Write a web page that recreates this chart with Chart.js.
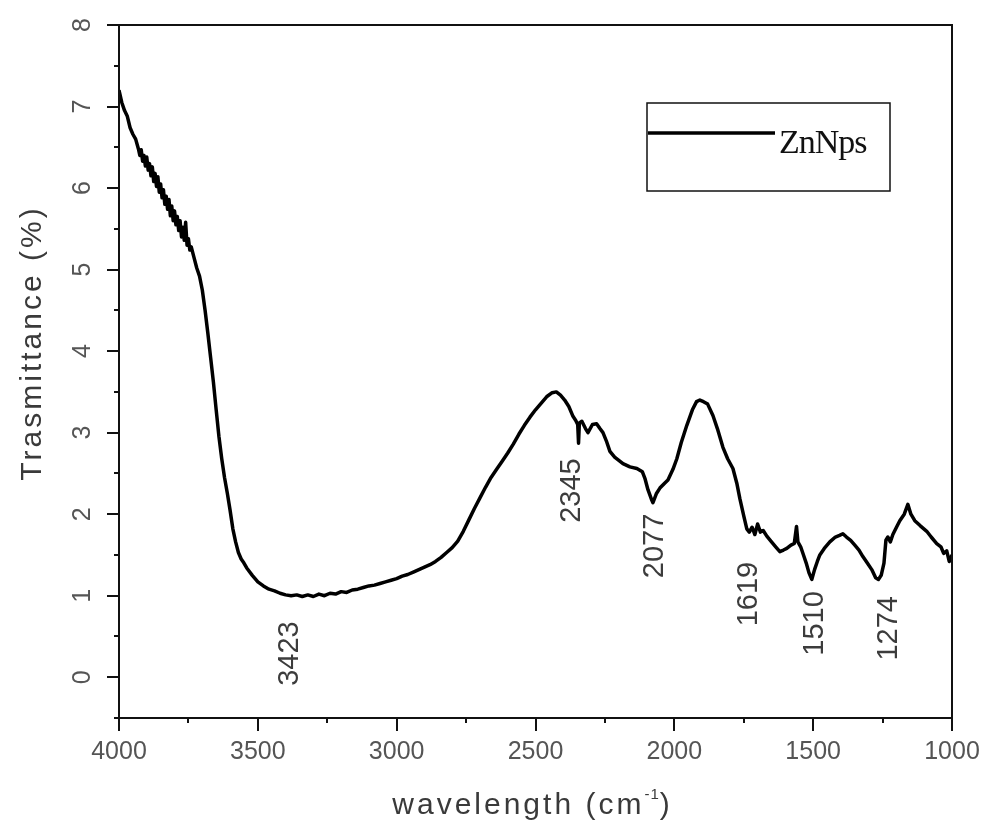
<!DOCTYPE html>
<html>
<head>
<meta charset="utf-8">
<title>ZnNps FTIR spectrum</title>
<script src="https://cdn.jsdelivr.net/npm/chart.js@4.4.1/dist/chart.umd.min.js"></script>
<style>
  html, body { margin: 0; padding: 0; background: #fff; }
  #wrap { width: 989px; height: 827px; }
</style>
</head>
<body>
<div id="wrap"><canvas id="ftirChart"></canvas></div>
<script>
const seriesName = "ZnNps";

const wavenumbers = [
  4000, 3990, 3980, 3970, 3960, 3950, 3940,
  3930, 3925, 3920, 3915, 3910, 3905, 3900, 3895, 3890, 3885, 3880, 3875, 3870, 3865, 3860, 3855,
  3850, 3845, 3840, 3835, 3830, 3825, 3820, 3815, 3810, 3805, 3800, 3795, 3790, 3785, 3780, 3775,
  3770, 3765, 3760, 3755, 3750, 3745, 3740, 3730, 3720, 3710, 3700, 3690,
  3680, 3670, 3660, 3650, 3640, 3630, 3620, 3610, 3600, 3590, 3580, 3570, 3560, 3550, 3540, 3520,
  3500, 3480, 3460, 3440, 3420, 3400, 3380, 3360, 3340, 3320, 3300, 3280, 3260, 3240, 3220, 3200,
  3180, 3160, 3140, 3120, 3100, 3080, 3060, 3040, 3020, 3000, 2980, 2960, 2940, 2920, 2900, 2880,
  2860, 2840, 2820, 2800, 2780, 2760, 2740, 2720, 2700, 2680, 2660, 2640, 2620, 2600, 2580, 2560,
  2540, 2520, 2500, 2480, 2460, 2440, 2425, 2410, 2395, 2380, 2365, 2355, 2348, 2345, 2342, 2333,
  2320, 2311, 2295, 2280, 2268, 2257, 2245, 2232, 2215, 2200, 2185, 2160, 2135, 2115, 2106, 2095,
  2081, 2077, 2065, 2052, 2035, 2023, 2005, 1991, 1975, 1955, 1935, 1920, 1908, 1895, 1880, 1861,
  1845, 1825, 1808, 1789, 1775, 1764, 1750, 1739, 1730, 1720, 1710, 1700, 1690, 1680, 1667, 1650,
  1635, 1620, 1607, 1595, 1580, 1568, 1560, 1555, 1545, 1537, 1525, 1515, 1505, 1495, 1485, 1476,
  1460, 1440, 1420, 1405, 1393, 1380, 1365, 1350, 1335, 1321, 1305, 1289, 1275, 1265, 1255, 1245,
  1238, 1231, 1222, 1213, 1200, 1188, 1172, 1159, 1148, 1134, 1115, 1091, 1075, 1055, 1040, 1030,
  1019, 1010, 1000
];

const transmittance = [
  7.20, 7.05, 6.95, 6.88, 6.74, 6.66, 6.60,
  6.48, 6.40, 6.47, 6.33, 6.40, 6.27, 6.38, 6.22, 6.30, 6.15, 6.26, 6.08, 6.18, 6.02, 6.14, 5.95,
  6.05, 5.88, 5.98, 5.80, 5.90, 5.74, 5.86, 5.66, 5.78, 5.60, 5.72, 5.55, 5.65, 5.48, 5.60, 5.40,
  5.52, 5.36, 5.58, 5.30, 5.38, 5.24, 5.28, 5.15, 5.02, 4.92, 4.75, 4.50,
  4.22, 3.92, 3.62, 3.28, 2.95, 2.68, 2.45, 2.26, 2.05, 1.82, 1.66, 1.53, 1.45, 1.40, 1.34, 1.25,
  1.17, 1.12, 1.08, 1.06, 1.03, 1.01, 1.00, 1.01, 0.99, 1.01, 0.99, 1.02, 1.00, 1.03, 1.02, 1.05,
  1.04, 1.07, 1.08, 1.10, 1.12, 1.13, 1.15, 1.17, 1.19, 1.21, 1.24, 1.26, 1.29, 1.32, 1.35, 1.38,
  1.42, 1.47, 1.53, 1.59, 1.67, 1.79, 1.93, 2.07, 2.20, 2.33, 2.45, 2.55, 2.65, 2.75, 2.86, 2.98,
  3.09, 3.19, 3.28, 3.36, 3.44, 3.49, 3.50, 3.46, 3.40, 3.32, 3.20, 3.15, 3.10, 2.87, 3.12, 3.14,
  3.05, 3.00, 3.10, 3.11, 3.05, 3.00, 2.90, 2.77, 2.70, 2.66, 2.62, 2.58, 2.56, 2.52, 2.44, 2.30,
  2.17, 2.14, 2.25, 2.32, 2.38, 2.42, 2.55, 2.68, 2.88, 3.09, 3.28, 3.38, 3.40, 3.38, 3.35, 3.21,
  3.05, 2.82, 2.68, 2.56, 2.38, 2.19, 1.98, 1.82, 1.78, 1.84, 1.75, 1.88, 1.78, 1.80, 1.73, 1.66,
  1.60, 1.54, 1.56, 1.58, 1.62, 1.64, 1.85, 1.66, 1.60, 1.52, 1.40, 1.28, 1.20, 1.32, 1.42, 1.50,
  1.58, 1.66, 1.72, 1.74, 1.76, 1.72, 1.68, 1.62, 1.56, 1.48, 1.40, 1.32, 1.22, 1.20, 1.25, 1.40,
  1.68, 1.72, 1.66, 1.75, 1.84, 1.92, 2.00, 2.12, 2.00, 1.92, 1.86, 1.79, 1.72, 1.64, 1.60, 1.52,
  1.55, 1.42, 1.50
];

const peakPositions = [3423, 2345, 2077, 1619, 1510, 1274];
const peakLabels = ["3423", "2345", "2077", "1619", "1510", "1274"];

const xTickLabels = [4000, 3500, 3000, 2500, 2000, 1500, 1000];
const yTickLabels = [0, 1, 2, 3, 4, 5, 6, 7, 8];

const xTitle = "wavelength (cm";
const xTitleSup = "-1";
const yTitle = "Trasmittance (%)";

const points = wavenumbers.map((w, i) => ({ x: w, y: transmittance[i] }));

// label placement under each band: pixel nudge along x, height in axis units
const peakLabelSpots = [[11, 0.29], [-7, 2.29], [2, 1.61], [-31, 1.02], [5, 0.66], [13, 0.60]];

// keep the plot box fixed: no extra room reserved for overhanging tick labels
const fixBox = (size) => (scale) => {
  if (scale.isHorizontal()) scale.height = size;
  else scale.width = size;
  scale.paddingTop = scale.paddingBottom = 0;
  scale.paddingLeft = scale.paddingRight = 0;
};

const spectrumDecor = {
  id: "spectrumDecor",
  afterDraw(chart) {
    const { ctx, chartArea: a, scales: { x, y } } = chart;
    ctx.save();

    // plot frame
    ctx.strokeStyle = "#111";
    ctx.lineWidth = 2;
    ctx.strokeRect(a.left, a.top, a.right - a.left, a.bottom - a.top);

    // outward tick marks, long on labelled values
    ctx.beginPath();
    y.ticks.forEach((t) => {
      const py = Math.round(y.getPixelForValue(t.value));
      const len = yTickLabels.includes(t.value) ? 12 : 5;
      ctx.moveTo(a.left - len, py);
      ctx.lineTo(a.left, py);
    });
    x.ticks.forEach((t) => {
      const px = Math.round(x.getPixelForValue(t.value));
      const len = xTickLabels.includes(t.value) ? 13 : 5;
      ctx.moveTo(px, a.bottom);
      ctx.lineTo(px, a.bottom + len);
    });
    ctx.stroke();

    // band positions written vertically under the curve
    ctx.fillStyle = "#3c3c3c";
    ctx.font = "29px 'Liberation Sans', Arial, sans-serif";
    ctx.textAlign = "center";
    ctx.textBaseline = "middle";
    peakPositions.forEach((p, i) => {
      const [dx, level] = peakLabelSpots[i];
      ctx.save();
      ctx.translate(x.getPixelForValue(p) + dx, y.getPixelForValue(level));
      ctx.rotate(-Math.PI / 2);
      ctx.fillText(peakLabels[i], 0, 0);
      ctx.restore();
    });

    // legend box
    const boxL = a.right - 305, boxT = a.top + 78, boxW = 243, boxH = 88;
    ctx.strokeStyle = "#111";
    ctx.lineWidth = 1.5;
    ctx.strokeRect(boxL, boxT, boxW, boxH);
    ctx.strokeStyle = chart.data.datasets[0].borderColor;
    ctx.lineWidth = 3.5;
    ctx.beginPath();
    ctx.moveTo(boxL + 1, boxT + 30);
    ctx.lineTo(boxL + 128, boxT + 30);
    ctx.stroke();
    ctx.fillStyle = "#111";
    ctx.font = "34px 'Liberation Serif', 'Times New Roman', serif";
    ctx.textAlign = "left";
    ctx.textBaseline = "alphabetic";
    ctx.letterSpacing = "-1px";
    ctx.fillText(chart.data.datasets[0].label, boxL + 132, boxT + 50);

    // axis titles
    ctx.fillStyle = "#3a3a3a";
    ctx.font = "30px 'Liberation Sans', Arial, sans-serif";
    ctx.letterSpacing = "3px";
    ctx.textBaseline = "middle";

    ctx.save();
    ctx.translate(a.left - 86, a.top + 318);
    ctx.rotate(-Math.PI / 2);
    ctx.textAlign = "center";
    ctx.fillText(yTitle, 0, 0);
    ctx.restore();

    const mainW = ctx.measureText(xTitle).width;
    ctx.font = "15px 'Liberation Sans', Arial, sans-serif";
    ctx.letterSpacing = "1px";
    const supW = ctx.measureText(xTitleSup).width;
    ctx.font = "30px 'Liberation Sans', Arial, sans-serif";
    ctx.letterSpacing = "3px";
    const closeW = ctx.measureText(")").width;
    let tx = (a.left + a.right) / 2 - 3 - (mainW + supW + closeW) / 2;
    const ty = a.bottom + 88;
    ctx.textAlign = "left";
    ctx.fillText(xTitle, tx, ty);
    tx += mainW;
    ctx.font = "15px 'Liberation Sans', Arial, sans-serif";
    ctx.letterSpacing = "1px";
    ctx.fillText(xTitleSup, tx, ty - 11);
    tx += supW;
    ctx.font = "30px 'Liberation Sans', Arial, sans-serif";
    ctx.letterSpacing = "3px";
    ctx.fillText(")", tx, ty);

    ctx.restore();
  }
};

new Chart(document.getElementById("ftirChart"), {
  type: "line",
  data: {
    datasets: [
      {
        label: seriesName,
        data: points,
        borderColor: "#000",
        borderWidth: 3.5,
        borderJoinStyle: "round",
        pointRadius: 0,
        tension: 0,
        fill: false,
      },
    ],
  },
  options: {
    responsive: true,
    maintainAspectRatio: false,
    animation: false,
    devicePixelRatio: 1,
    layout: { padding: { top: 25, right: 37, bottom: 0, left: 0 } },
    plugins: {
      legend: { display: false },
      tooltip: { enabled: false },
    },
    scales: {
      x: {
        type: "linear",
        reverse: true,
        min: 1000,
        max: 4000,
        grid: { display: false, drawTicks: false },
        border: { display: false },
        afterFit: fixBox(109),
        ticks: {
          stepSize: 250,
          autoSkip: false,
          maxRotation: 0,
          padding: 19,
          color: "#555",
          font: { family: "'Liberation Sans', Arial, sans-serif", size: 25 },
          callback: (v) => (xTickLabels.includes(v) ? String(v) : ""),
        },
      },
      y: {
        min: -0.5,
        max: 8,
        grid: { display: false, drawTicks: false },
        border: { display: false },
        afterFit: fixBox(119),
        ticks: {
          stepSize: 0.5,
          autoSkip: false,
          minRotation: 90,
          maxRotation: 90,
          crossAlign: "center",
          padding: 29,
          color: "#555",
          font: { family: "'Liberation Sans', Arial, sans-serif", size: 25 },
          callback: (v) => (yTickLabels.includes(v) ? String(v) : ""),
        },
      },
    },
  },
  plugins: [spectrumDecor],
});
</script>
</body>
</html>
